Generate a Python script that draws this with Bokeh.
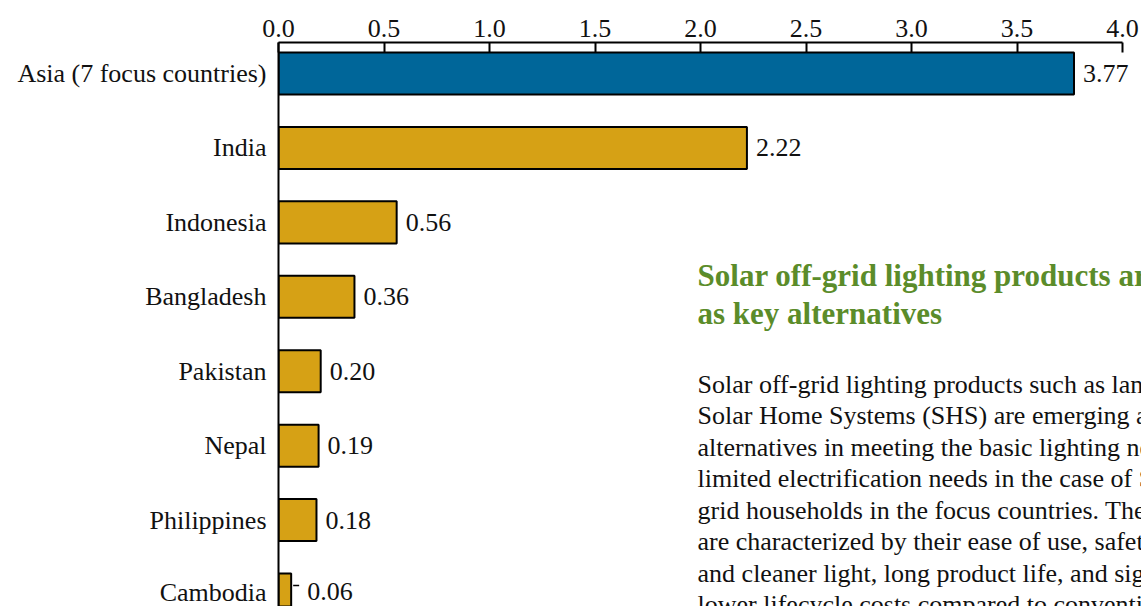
from bokeh.plotting import figure
from bokeh.models import Range1d, FixedTicker, NumeralTickFormatter, ColumnDataSource
from bokeh.core.properties import value
from bokeh.embed import file_html
from bokeh.resources import INLINE

# ---- data ----
countries = ["Asia (7 focus countries)", "India", "Indonesia", "Bangladesh",
             "Pakistan", "Nepal", "Philippines", "Cambodia"]
values = [3.77, 2.22, 0.56, 0.36, 0.20, 0.19, 0.18, 0.06]
bar_colors = ["#006699", "#D6A115", "#D6A115", "#D6A115",
              "#D6A115", "#D6A115", "#D6A115", "#D6A115"]
x_ticks = [0.0, 0.5, 1.0, 1.5, 2.0, 2.5, 3.0, 3.5, 4.0]

heading_lines = ["Solar off-grid lighting products are emerging",
                 "as key alternatives"]
body_lines = ["Solar off-grid lighting products such as lanterns and",
              "Solar Home Systems (SHS) are emerging as key",
              "alternatives in meeting the basic lighting needs and",
              "limited electrification needs in the case of SHS of off-",
              "grid households in the focus countries. These products",
              "are characterized by their ease of use, safety, brighter",
              "and cleaner light, long product life, and significantly",
              "lower lifecycle costs compared to conventional"]

FONT = "Liberation Serif"
pos = list(range(len(countries)))

p = figure(width=1141, height=606, output_backend="svg", toolbar_location=None,
           x_range=Range1d(0, 4.09), y_range=Range1d(7.161, -0.4165),
           x_axis_location="above",
           min_border_left=278, min_border_right=0, min_border_top=42,
           min_border_bottom=0)
p.outline_line_color = None
p.xgrid.visible = False
p.ygrid.visible = False
p.background_fill_color = "white"
p.border_fill_color = "white"

src = ColumnDataSource(dict(y=pos, v=values, c=bar_colors))
p.hbar(y="y", left=0, right="v", height=0.565, fill_color="c",
       line_color="black", line_width=2, source=src)

# value labels
main = dict(y=pos[:-1], v=values[:-1], lab=["%.2f" % v for v in values[:-1]])
p.text(x="v", y="y", text="lab", source=ColumnDataSource(main), x_offset=9,
       text_align="left", text_baseline="middle", text_font=value(FONT),
       text_font_size="26px", text_color="#111111")
last = dict(y=[pos[-1]], v=[values[-1]], lab=["%.2f" % values[-1]])
p.text(x="v", y="y", text="lab", source=ColumnDataSource(last), x_offset=16,
       y_offset=-3, text_align="left", text_baseline="middle",
       text_font=value(FONT), text_font_size="26px", text_color="#111111")
px_per_unit = 211.0
p.segment(x0=[values[-1] + 2 / px_per_unit], x1=[values[-1] + 8 / px_per_unit],
          y0=[pos[-1] - 0.12], y1=[pos[-1] - 0.12], line_color="black", line_width=1.5)

# x axis (top)
xa = p.xaxis[0]
xa.ticker = FixedTicker(ticks=x_ticks)
xa.formatter = NumeralTickFormatter(format="0.0")
xa.bounds = (0, 4)
xa.major_tick_in = 10
xa.major_tick_out = 0
xa.minor_tick_in = 0
xa.minor_tick_out = 0
xa.axis_line_width = 2
xa.major_tick_line_width = 2
xa.major_label_standoff = 6
xa.major_label_text_font = FONT
xa.major_label_text_font_size = "26px"
xa.major_label_text_color = "#111111"

# y axis (left)
ya = p.yaxis[0]
ya.ticker = FixedTicker(ticks=pos)
ya.major_label_overrides = {i: c for i, c in zip(pos, countries)}
ya.major_tick_in = 0
ya.major_tick_out = 0
ya.minor_tick_in = 0
ya.minor_tick_out = 0
ya.axis_line_width = 2
ya.major_label_standoff = 12
ya.major_label_text_font = FONT
ya.major_label_text_font_size = "26px"
ya.major_label_text_color = "#111111"

# side text block
tx = 1.986
head_y = [2.714, 3.225]
p.text(x=[tx] * len(heading_lines), y=head_y, text=heading_lines,
       text_align="left", text_baseline="middle", text_font=value(FONT),
       text_font_size="31px", text_font_style="bold", text_color="#5B8C2A")
body_y = [4.178 + 0.4232 * i for i in range(len(body_lines))]
p.text(x=[tx] * len(body_lines), y=body_y, text=body_lines,
       text_align="left", text_baseline="middle", text_font=value(FONT),
       text_font_size="26px", text_color="#111111")

open("out.html", "w").write(file_html(p, INLINE))
